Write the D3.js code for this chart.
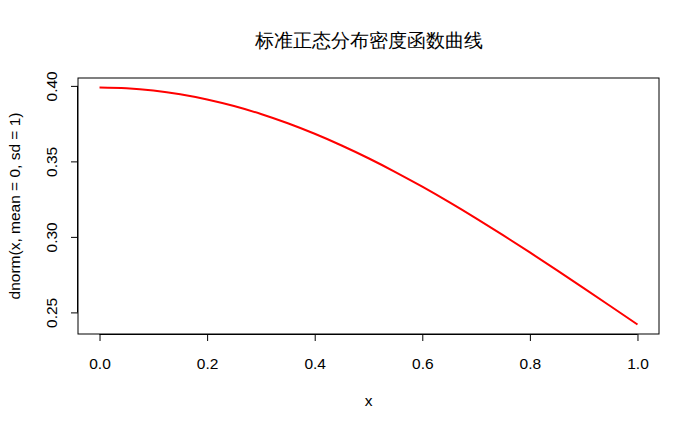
<!DOCTYPE html>
<html><head><meta charset="utf-8">
<script src="https://cdn.jsdelivr.net/npm/d3@7"></script>
<style>body{margin:0;background:#fff}svg{display:block}text{font-family:"Liberation Sans",Arial,sans-serif}</style>
</head><body><svg width="700" height="432"></svg>
<script>
const xValues=[0,0.05,0.1,0.15,0.2,0.25,0.3,0.35,0.4,0.45,0.5,0.55,0.6,0.65,0.7,0.75,0.8,0.85,0.9,0.95,1.0];
const yValues=[0.39894,0.39844,0.39695,0.39448,0.39104,0.38667,0.38139,0.37524,0.36827,0.36053,0.35207,0.34294,0.33322,0.32297,0.31225,0.30114,0.28969,0.27798,0.26609,0.25406,0.24197];
const xTicks=[0,0.2,0.4,0.6,0.8,1.0];
const yTicks=[0.25,0.30,0.35,0.40];
const title="标准正态分布密度函数曲线";
const xLabel="x";
const yLabel="dnorm(x, mean = 0, sd = 1)";

const svg=d3.select("svg");
const L=78,R=659,T=78,B=334;
const FS=15.5;
const xe=d3.extent(xValues), ye=d3.extent(yValues);
const xp=(xe[1]-xe[0])*0.04, yp=(ye[1]-ye[0])*0.04;
const x=d3.scaleLinear().domain([xe[0]-xp,xe[1]+xp]).range([L,R]);
const y=d3.scaleLinear().domain([ye[0]-yp,ye[1]+yp]).range([B,T]);

svg.append("rect").attr("x",L).attr("y",T).attr("width",R-L).attr("height",B-T)
  .attr("fill","none").attr("stroke","#000").attr("stroke-width",1);

const xa=svg.append("g").attr("transform",`translate(0,${B})`)
  .call(d3.axisBottom(x).tickValues(xTicks).tickFormat(d3.format(".1f")).tickSize(7).tickPadding(0));
xa.select(".domain").attr("d",`M${x(xTicks[0])},0.5H${x(xTicks[xTicks.length-1])}`);
xa.selectAll(".tick text").attr("font-size",FS).attr("fill","#000").attr("font-family","Liberation Sans, Arial, sans-serif")
  .attr("y",35).attr("dy",0);

const ya=svg.append("g").attr("transform",`translate(${L},0)`)
  .call(d3.axisLeft(y).tickValues(yTicks).tickFormat(d3.format(".2f")).tickSize(7).tickPadding(0));
ya.select(".domain").attr("d",`M-0.5,${y(yTicks[0])}V${y(yTicks[yTicks.length-1])}`);
ya.selectAll(".tick text").attr("font-size",FS).attr("fill","#000")
  .attr("font-family","Liberation Sans, Arial, sans-serif")
  .attr("x",0).attr("dy",0).attr("text-anchor","middle")
  .attr("transform","translate(-21,0) rotate(-90)");

const line=d3.line().x((d,i)=>x(xValues[i])).y(d=>y(d)).curve(d3.curveMonotoneX);
svg.append("path").datum(yValues).attr("d",line).attr("fill","none").attr("stroke","#ff0000").attr("stroke-width",2);

svg.append("text").attr("x",(L+R)/2).attr("y",47).attr("text-anchor","middle")
  .attr("font-size",19).attr("font-family","Noto Sans CJK SC, sans-serif").text(title);
svg.append("text").attr("x",(L+R)/2).attr("y",406).attr("text-anchor","middle").attr("font-size",FS).text(xLabel);
svg.append("text").attr("transform",`translate(20,${(T+B)/2}) rotate(-90)`).attr("text-anchor","middle").attr("font-size",FS).text(yLabel);
</script></body></html>
